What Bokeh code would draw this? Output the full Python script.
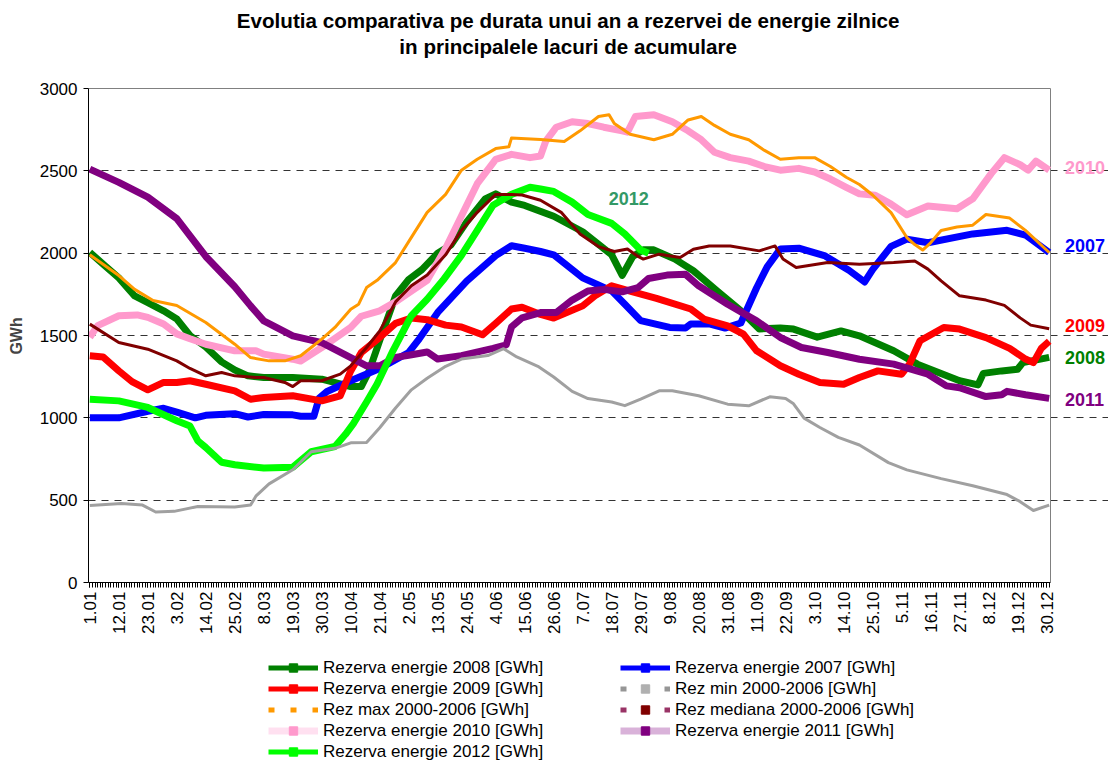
from math import pi
from bokeh.plotting import figure
from bokeh.layouts import column
from bokeh.models import Range1d, FixedTicker, Legend, LegendItem, Label
from bokeh.embed import file_html
from bokeh.resources import INLINE

FONT = "Liberation Sans"

# ---- x axis: day of year (0 = 1 Jan), labels every 11 days ----
date_labels = ["1.01", "12.01", "23.01", "3.02", "14.02", "25.02", "8.03", "19.03", "30.03",
               "10.04", "21.04", "2.05", "13.05", "24.05", "4.06", "15.06", "26.06", "7.07",
               "18.07", "29.07", "9.08", "20.08", "31.08", "11.09", "22.09", "3.10", "14.10",
               "25.10", "5.11", "16.11", "27.11", "8.12", "19.12", "30.12"]
label_days = [11 * i for i in range(len(date_labels))]
y_ticks = [0, 500, 1000, 1500, 2000, 2500, 3000]

# ---- series (day, GWh) ----
days_2008 = [0, 6, 11, 17, 22, 28, 33, 38, 44, 50, 55, 60, 66, 77, 88, 99, 103, 106, 110, 116, 121, 126,
             132, 137, 143, 150, 154, 160, 165, 176, 187, 198, 202, 206, 210, 214, 222, 229, 238, 247,
             254, 262, 267, 276, 285, 292, 305, 314, 322, 330, 337, 339, 346, 352, 354, 364]
vals_2008 = [2005, 1920, 1850, 1740, 1700, 1650, 1600, 1500, 1430, 1340, 1290, 1255, 1245, 1245, 1235,
             1190, 1190, 1285, 1470, 1740, 1840, 1900, 2000, 2050, 2190, 2330, 2360, 2310, 2290, 2224,
             2130, 1990, 1865, 1980, 2020, 2020, 1964, 1893, 1771, 1650, 1540, 1545, 1539, 1490, 1528,
             1498, 1407, 1326, 1275, 1225, 1200, 1270, 1285, 1295, 1335, 1367]

days_2007 = [0, 11, 22, 28, 33, 40, 44, 51, 55, 60, 66, 77, 80, 85, 87, 90, 99, 110, 121, 125, 132, 143,
             154, 160, 165, 171, 176, 187, 198, 203, 209, 220, 226, 228, 235, 241, 247, 253, 257, 262,
             269, 279, 288, 294, 297, 304, 310, 318, 335, 348, 355, 364]
vals_2007 = [1000, 1000, 1040, 1058, 1035, 1000, 1015, 1022, 1025, 1005, 1020, 1018, 1010, 1010, 1120,
             1160, 1225, 1300, 1397, 1480, 1640, 1830, 1985, 2045, 2030, 2010, 1990, 1850, 1771, 1690,
             1590, 1549, 1545, 1570, 1570, 1545, 1576, 1790, 1917, 2026, 2030, 1983, 1896, 1825, 1900,
             2041, 2085, 2063, 2117, 2139, 2110, 2004]

days_2009 = [0, 5, 11, 16, 22, 28, 33, 38, 44, 55, 61, 66, 77, 88, 95, 99, 103, 110, 116, 122, 128, 135,
             141, 149, 154, 160, 164, 171, 176, 187, 192, 198, 205, 215, 228, 233, 242, 248, 253, 262,
             269, 277, 286, 292, 299, 308, 311, 315, 324, 330, 340, 349, 355, 358, 361, 364]
vals_2009 = [1377, 1370, 1285, 1220, 1170, 1215, 1215, 1225, 1204, 1164, 1113, 1124, 1134, 1103, 1134,
             1285, 1397, 1488, 1574, 1606, 1596, 1563, 1552, 1504, 1574, 1661, 1672, 1628, 1606, 1680,
             1745, 1802, 1770, 1726, 1661, 1600, 1559, 1508, 1407, 1316, 1265, 1215, 1204, 1245, 1285,
             1265, 1326, 1468, 1549, 1539, 1487, 1422, 1357, 1335, 1422, 1465]

days_2010 = [0, 3, 11, 18, 22, 28, 33, 38, 44, 55, 63, 66, 77, 80, 88, 99, 103, 110, 116, 122, 128, 135,
             141, 147, 154, 160, 167, 171, 173, 177, 183, 189, 195, 202, 204, 207, 214, 221, 227, 232,
             237, 243, 250, 256, 262, 269, 275, 281, 287, 292, 298, 304, 310, 318, 329, 335, 342, 347,
             353, 356, 359, 364]
vals_2010 = [1490, 1560, 1620, 1625, 1610, 1570, 1510, 1480, 1447, 1407, 1407, 1387, 1356, 1345, 1427,
             1549, 1617, 1650, 1704, 1770, 1835, 2030, 2226, 2422, 2570, 2600, 2580, 2590, 2680, 2765,
             2798, 2787, 2765, 2743, 2735, 2830, 2841, 2798, 2743, 2689, 2613, 2580, 2559, 2526, 2504,
             2515, 2493, 2450, 2400, 2360, 2352, 2298, 2233, 2287, 2270, 2330, 2483, 2580, 2537, 2504,
             2559, 2504]

days_2011 = [0, 11, 22, 33, 44, 55, 61, 66, 77, 88, 99, 105, 110, 116, 121, 128, 132, 141, 153, 158, 160,
             164, 171, 177, 183, 189, 195, 202, 208, 212, 219, 226, 231, 242, 253, 262, 270, 280, 292,
             305, 318, 325, 330, 340, 346, 348, 355, 364]
vals_2011 = [2510, 2430, 2340, 2210, 1980, 1796, 1680, 1589, 1498, 1457, 1366, 1316, 1316, 1367, 1380,
             1400, 1357, 1378, 1422, 1443, 1552, 1607, 1639, 1639, 1715, 1770, 1780, 1765, 1791, 1846,
             1867, 1872, 1802, 1690, 1589, 1488, 1427, 1397, 1356, 1326, 1265, 1194, 1183, 1129, 1140,
             1161, 1140, 1118]

days_2012 = [0, 11, 22, 33, 38, 41, 44, 50, 55, 66, 77, 84, 93, 97, 100, 105, 109, 115, 122, 128, 134,
             141, 147, 153, 160, 167, 171, 176, 183, 189, 198, 203, 209, 212]
vals_2012 = [1113, 1103, 1063, 982, 950, 860, 820, 730, 715, 695, 700, 794, 826, 900, 965, 1096, 1205,
             1407, 1620, 1720, 1835, 1987, 2139, 2291, 2357, 2400, 2390, 2375, 2310, 2235, 2181, 2116,
             2019, 2000]

days_max = [0, 11, 17, 24, 33, 44, 55, 61, 68, 74, 80, 84, 88, 93, 99, 102, 105, 109, 116, 122, 128, 135,
            141, 147, 154, 159, 160, 171, 180, 186, 193, 197, 199, 205, 214, 221, 227, 232, 237, 243,
            250, 256, 262, 269, 275, 281, 287, 292, 297, 304, 310, 313, 316, 319, 323, 329, 335, 340,
            349, 355, 364]
vals_max = [1990, 1864, 1780, 1712, 1682, 1579, 1447, 1366, 1346, 1346, 1377, 1427, 1478, 1549, 1660,
            1690, 1791, 1835, 1943, 2096, 2248, 2357, 2504, 2570, 2635, 2646, 2700, 2690, 2678, 2743,
            2830, 2841, 2787, 2722, 2689, 2722, 2809, 2830, 2776, 2722, 2689, 2624, 2570, 2580, 2580,
            2526, 2461, 2417, 2353, 2246, 2095, 2052, 2019, 2063, 2138, 2159, 2170, 2235, 2213, 2138,
            2004]

days_min = [0, 12, 20, 25, 32, 41, 55, 61, 63, 68, 77, 84, 93, 99, 105, 110, 116, 122, 128, 135, 141,
            151, 157, 162, 170, 176, 183, 189, 198, 203, 209, 216, 221, 231, 242, 250, 258, 264, 267,
            271, 277, 284, 292, 303, 310, 323, 335, 348, 353, 358, 364]
vals_min = [468, 480, 470, 428, 432, 462, 459, 470, 524, 599, 685, 794, 815, 848, 850, 940, 1060, 1170,
            1240, 1313, 1357, 1378, 1420, 1370, 1313, 1248, 1161, 1117, 1096, 1074, 1113, 1164, 1164,
            1134, 1083, 1073, 1128, 1117, 1085, 998, 941, 881, 835, 728, 684, 631, 588, 534, 491, 437,
            470]

days_med = [0, 11, 22, 33, 38, 44, 50, 55, 63, 66, 74, 77, 80, 88, 95, 99, 105, 110, 116, 122, 128, 135,
            141, 147, 154, 160, 164, 171, 179, 186, 193, 199, 204, 208, 210, 216, 224, 229, 235, 243,
            254, 260, 263, 268, 280, 292, 305, 313, 318, 323, 330, 340, 347, 353, 357, 364]
vals_med = [1569, 1457, 1417, 1346, 1300, 1255, 1275, 1255, 1245, 1245, 1215, 1190, 1225, 1225, 1265,
            1316, 1427, 1528, 1704, 1802, 1867, 1990, 2139, 2248, 2357, 2357, 2353, 2321, 2246, 2116,
            2040, 2010, 2025, 1980, 1964, 1994, 1974, 2024, 2044, 2044, 2014, 2044, 1964, 1913, 1943,
            1933, 1943, 1953, 1903, 1832, 1741, 1715, 1683, 1607, 1563, 1541]

# ---- geometry: the frame also covers the title area and the right-hand labels ----
FIG_W = 1108
LEFT, RIGHT_DATA, TOP, BOTTOM = 88, 1050, 88, 582
X0, X1 = -0.5, 364.5
PX_PER_DAY = (RIGHT_DATA - LEFT) / 365.0
PX_PER_GWH = (BOTTOM - TOP) / 3000.0
x_end = X1 + (FIG_W - RIGHT_DATA) / PX_PER_DAY
y_end = 3000 + TOP / PX_PER_GWH

p = figure(width=FIG_W, height=652, output_backend="svg", toolbar_location=None,
           x_range=Range1d(X0, x_end), y_range=Range1d(0, y_end),
           min_border_left=LEFT, min_border_right=0, min_border_top=0, min_border_bottom=652 - BOTTOM,
           title=None)
p.outline_line_color = None
p.background_fill_color = "white"
p.border_fill_color = "white"

p.xgrid.visible = False
p.ygrid.ticker = FixedTicker(ticks=[500, 1000, 1500, 2000, 2500])
p.ygrid.bounds = (X0, X1)
p.ygrid.grid_line_color = "#333333"
p.ygrid.grid_line_dash = "7 6"
p.ygrid.grid_line_width = 1

xa = p.xaxis[0]
xa.bounds = (X0, X1)
xa.ticker = FixedTicker(ticks=label_days, minor_ticks=list(range(365)))
xa.major_label_overrides = {d: l for d, l in zip(label_days, date_labels)}
xa.major_label_orientation = pi / 2
xa.major_label_text_font = FONT
xa.major_label_text_font_size = "17px"
xa.major_label_text_color = "black"
xa.major_label_standoff = 4
xa.major_tick_out = 5
xa.major_tick_in = 0
xa.minor_tick_out = 5
xa.minor_tick_in = 0
xa.axis_line_color = "black"
xa.major_tick_line_color = "black"
xa.minor_tick_line_color = "black"

ya = p.yaxis[0]
ya.bounds = (0, 3000)
ya.ticker = FixedTicker(ticks=y_ticks)
ya.major_label_text_font = FONT
ya.major_label_text_font_size = "17px"
ya.major_label_text_color = "black"
ya.major_tick_out = 5
ya.major_tick_in = 0
ya.minor_tick_out = 0
ya.minor_tick_in = 0
ya.major_label_standoff = 6
ya.axis_line_color = "black"
# trailing no-break spaces move the centred label down to the middle of 0..3000
ya.axis_label = "GWh" + "\u00a0" * 20
ya.axis_label_text_font = FONT
ya.axis_label_text_font_size = "16px"
ya.axis_label_text_font_style = "bold"
ya.axis_label_standoff = 12

# plot-area border (top and right edges)
p.line([X0, X1, X1], [3000, 3000, 0], line_color="#808080", line_width=1)

# ---- data lines ----
W = 7
p.line(days_2008, vals_2008, line_color="#008000", line_width=W, line_join="round")
p.line(days_2007, vals_2007, line_color="#0000FF", line_width=W, line_join="round")
p.line(days_2009, vals_2009, line_color="#FF0000", line_width=W, line_join="round")
p.line(days_2010, vals_2010, line_color="#FF99CC", line_width=W, line_join="round")
p.line(days_2011, vals_2011, line_color="#800080", line_width=W, line_join="round")
p.line(days_2012, vals_2012, line_color="#00FF00", line_width=W, line_join="round")
p.line(days_min, vals_min, line_color="#A0A0A0", line_width=3, line_join="round")
p.line(days_max, vals_max, line_color="#FF9900", line_width=3, line_join="round")
p.line(days_med, vals_med, line_color="#800000", line_width=3, line_join="round")

# ---- texts ----
def lab(x, y, text, color="black", size="17px", bold=True, align="left"):
    p.add_layout(Label(x=x, y=y, text=text, text_color=color, text_font=FONT,
                       text_font_size=size, text_font_style="bold" if bold else "normal",
                       text_align=align, text_baseline="middle"))

lab(181.5, 3413, "Evolutia comparativa pe durata unui an a rezervei de energie zilnice",
    size="20.6px", align="center")
lab(181.5, 3255, "in principalele lacuri de acumulare", size="20.6px", align="center")

lab(370, 2520, "2010", color="#FF99CC", size="18px")
lab(370, 2047, "2007", color="#0000FF", size="18px")
lab(370, 1561, "2009", color="#FF0000", size="18px")
lab(370, 1366, "2008", color="#008000", size="18px")
lab(370, 1111, "2011", color="#800080", size="18px")
lab(204.5, 2332, "2012", color="#339966", size="18px", align="center")

# ---- legend strip (separate figure under the chart, frames aligned) ----
Q_H = 110
q = figure(width=FIG_W, height=Q_H, output_backend="svg", toolbar_location=None,
           x_range=Range1d(0, 1), y_range=Range1d(0, 1), x_axis_type=None, y_axis_type=None,
           min_border_left=LEFT, min_border_right=0, min_border_top=0, min_border_bottom=0,
           title=None)
q.outline_line_color = None
q.grid.visible = False
q.background_fill_color = "white"
q.border_fill_color = "white"

# legend-only renderers, placed outside the visible range of the strip
OFF = [5, 6]
def solid_item(label, color, light=False):
    if light:
        r1 = q.line(OFF, [5, 5], line_color=color, line_alpha=0.3, line_width=7)
    else:
        r1 = q.line(OFF, [5, 5], line_color=color, line_width=5)
    r2 = q.scatter([5], [5], marker="square", size=6, fill_color=color, line_color=color)
    return LegendItem(label=label, renderers=[r1, r2])

def dash_item(label, color, dot=None):
    r1 = q.line(OFF, [5, 5], line_color=color, line_width=5, line_dash="6 16")
    rs = [r1]
    if dot:
        rs.append(q.scatter([5], [5], marker="square", size=3, fill_color=dot, line_color=dot))
    return LegendItem(label=label, renderers=rs)

items1 = [solid_item("Rezerva energie 2008 [GWh]", "#008000"),
          solid_item("Rezerva energie 2009 [GWh]", "#FF0000"),
          dash_item("Rez max 2000-2006 [GWh]", "#FF9900"),
          solid_item("Rezerva energie 2010 [GWh]", "#FF99CC", light=True),
          solid_item("Rezerva energie 2012 [GWh]", "#00FF00")]
items2 = [solid_item("Rezerva energie 2007 [GWh]", "#0000FF"),
          dash_item("Rez min 2000-2006 [GWh]", "#969696", dot="#B0B0B0"),
          dash_item("Rez mediana 2000-2006 [GWh]", "#993366", dot="#800000"),
          solid_item("Rezerva energie 2011 [GWh]", "#800080", light=True)]

def make_legend(its, loc):
    lg = Legend(items=its, location=loc, orientation="vertical")
    lg.label_text_font = FONT
    lg.label_text_font_size = "17px"
    lg.label_text_color = "black"
    lg.glyph_width = 50
    lg.glyph_height = 21
    lg.label_height = 21
    lg.label_standoff = 5
    lg.spacing = 0
    lg.padding = 0
    lg.margin = 0
    lg.border_line_color = None
    lg.background_fill_alpha = 0
    return lg

q.add_layout(make_legend(items1, (268 - LEFT, 0)), "center")
q.add_layout(make_legend(items2, (620 - LEFT, 21)), "center")

open("out.html", "w").write(file_html(column(p, q, spacing=0), INLINE))
